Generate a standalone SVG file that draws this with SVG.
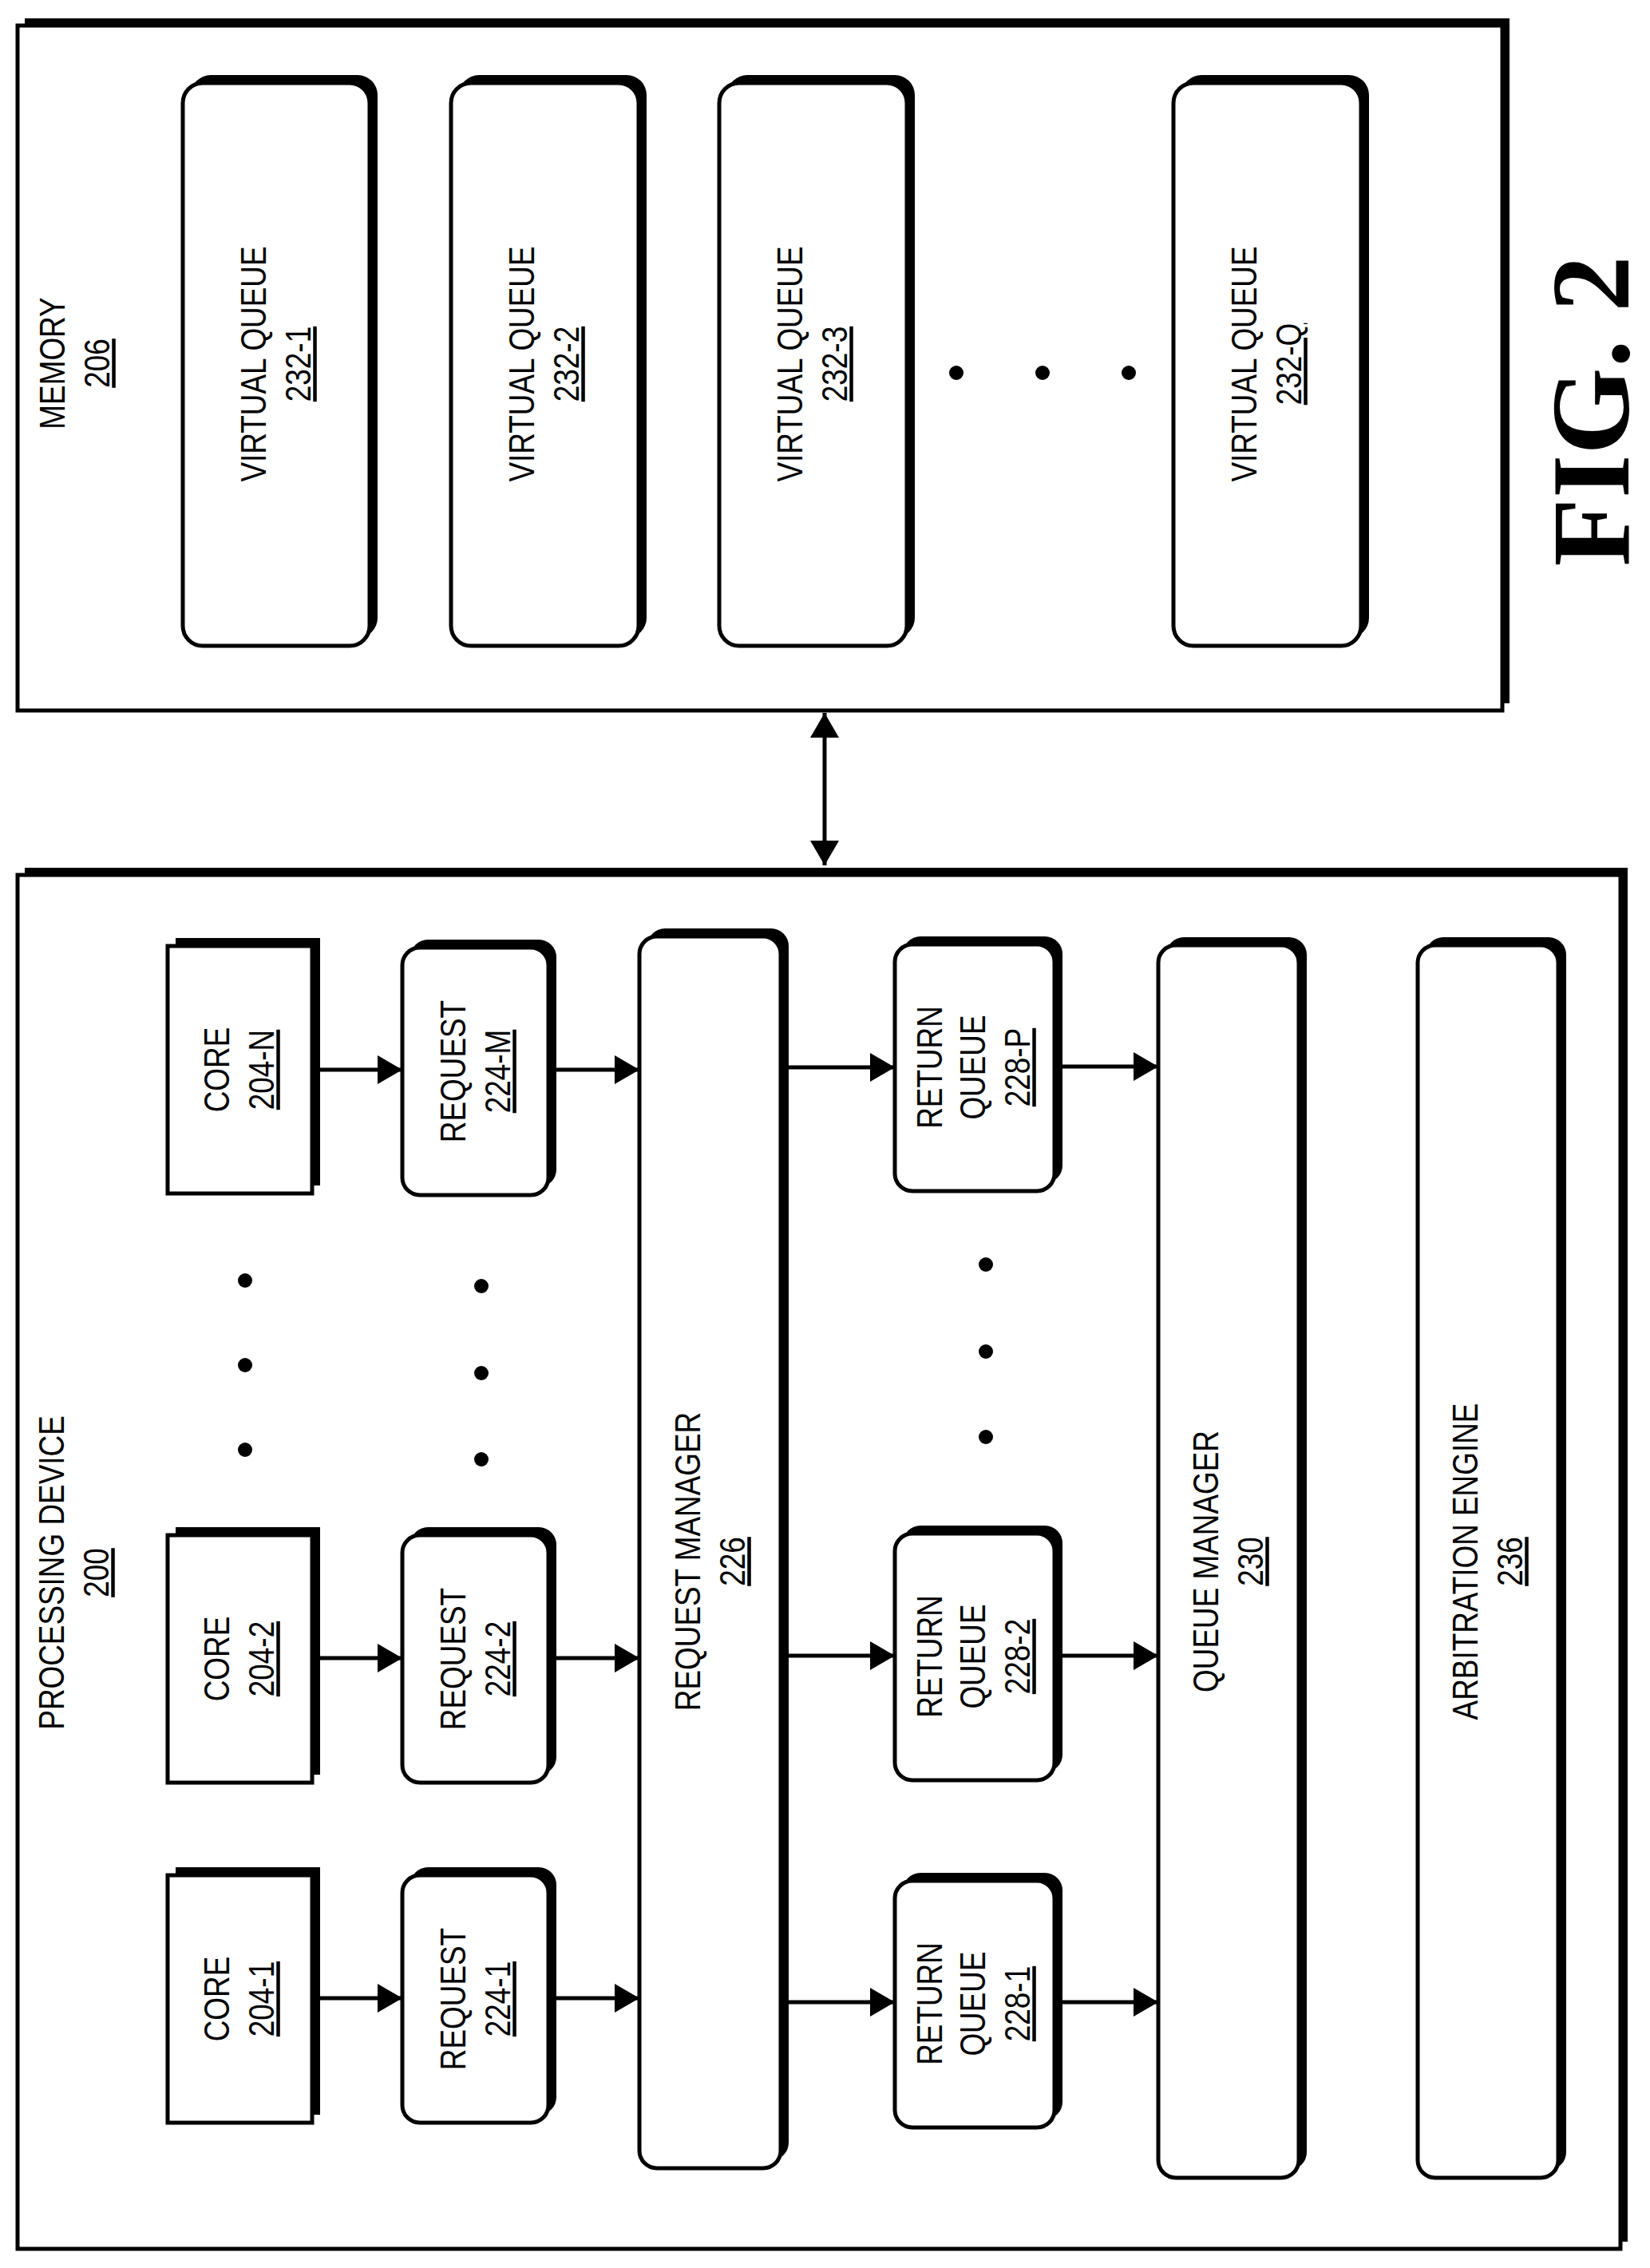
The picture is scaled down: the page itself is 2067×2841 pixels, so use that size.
<svg xmlns="http://www.w3.org/2000/svg" width="2067" height="2841" viewBox="0 0 2067 2841">
<style>
.sh{fill:#000}
.bx{fill:#fff;stroke:#000;stroke-width:5}
.t{font-family:"Liberation Sans",Arial,sans-serif;font-size:45px;fill:#000;text-anchor:middle}
.u{text-decoration:underline}
.c{stroke:#000;stroke-width:5;fill:none}
.fig{font-family:"Liberation Serif","Times New Roman",serif;font-weight:bold;font-size:140px;text-anchor:middle}
</style>
<defs>
<marker id="ah" markerUnits="userSpaceOnUse" markerWidth="32" markerHeight="36" refX="31" refY="18" orient="auto-start-reverse">
<path d="M0,0 L31,18 L0,36 Z" fill="#000"/>
</marker>
</defs>
<rect width="2067" height="2841" fill="#fff"/>

<g id="memory">
<rect class="sh" x="31" y="23" width="1860" height="858"/>
<rect class="bx" x="22" y="32" width="1860" height="858"/>
<text class="t" transform="translate(94,455) rotate(-90) scale(0.82,1)"><tspan x="0" y="-13">MEMORY</tspan><tspan class="u" x="0" y="43">206</tspan></text>
</g>

<g id="vq1">
<rect class="sh" x="239" y="94" width="234" height="705" rx="25"/>
<rect class="bx" x="229" y="104" width="234" height="705" rx="25"/>
<text class="t" transform="translate(346,456) rotate(-90) scale(0.82,1)"><tspan x="0" y="-13">VIRTUAL QUEUE</tspan><tspan class="u" x="0" y="43">232-1</tspan></text>
</g>
<g id="vq2">
<rect class="sh" x="575" y="94" width="235" height="705" rx="25"/>
<rect class="bx" x="565" y="104" width="235" height="705" rx="25"/>
<text class="t" transform="translate(682,456) rotate(-90) scale(0.82,1)"><tspan x="0" y="-13">VIRTUAL QUEUE</tspan><tspan class="u" x="0" y="43">232-2</tspan></text>
</g>
<g id="vq3">
<rect class="sh" x="911" y="94" width="235" height="705" rx="25"/>
<rect class="bx" x="901" y="104" width="235" height="705" rx="25"/>
<text class="t" transform="translate(1018,456) rotate(-90) scale(0.82,1)"><tspan x="0" y="-13">VIRTUAL QUEUE</tspan><tspan class="u" x="0" y="43">232-3</tspan></text>
</g>
<g id="vqQ">
<rect class="sh" x="1480" y="94" width="235" height="705" rx="25"/>
<rect class="bx" x="1470" y="104" width="235" height="705" rx="25"/>
<text class="t" transform="translate(1587,456) rotate(-90) scale(0.82,1)"><tspan x="0" y="-13">VIRTUAL QUEUE</tspan><tspan class="u" x="0" y="43">232-Q</tspan></text>
</g>
<g id="vq-dots">
<circle cx="1198" cy="467" r="9"/><circle cx="1306" cy="467" r="9"/><circle cx="1414" cy="467" r="9"/>
</g>

<g id="fig"><text class="fig" transform="translate(2040,515) rotate(-90)">FIG. 2</text></g>

<g id="processing-device">
<rect class="sh" x="31" y="1087" width="2008" height="1721"/>
<rect class="bx" x="22" y="1096" width="2008" height="1721"/>
<text class="t" transform="translate(93,1970) rotate(-90) scale(0.82,1)"><tspan x="0" y="-13">PROCESSING DEVICE</tspan><tspan class="u" x="0" y="43">200</tspan></text>
</g>

<g id="coreN">
<rect class="sh" x="220" y="1175" width="181" height="310"/>
<rect class="bx" x="210" y="1185" width="181" height="310"/>
<text class="t" transform="translate(300,1340) rotate(-90) scale(0.82,1)"><tspan x="0" y="-13">CORE</tspan><tspan class="u" x="0" y="43">204-N</tspan></text>
</g>
<g id="core2">
<rect class="sh" x="220" y="1913" width="181" height="310"/>
<rect class="bx" x="210" y="1923" width="181" height="310"/>
<text class="t" transform="translate(300,2078) rotate(-90) scale(0.82,1)"><tspan x="0" y="-13">CORE</tspan><tspan class="u" x="0" y="43">204-2</tspan></text>
</g>
<g id="core1">
<rect class="sh" x="220" y="2339" width="181" height="310"/>
<rect class="bx" x="210" y="2349" width="181" height="310"/>
<text class="t" transform="translate(300,2504) rotate(-90) scale(0.82,1)"><tspan x="0" y="-13">CORE</tspan><tspan class="u" x="0" y="43">204-1</tspan></text>
</g>
<g id="core-dots"><circle cx="307" cy="1604" r="9"/><circle cx="307" cy="1710" r="9"/><circle cx="307" cy="1816" r="9"/></g>

<g id="reqM">
<rect class="sh" x="514" y="1177" width="183" height="310" rx="22"/>
<rect class="bx" x="504" y="1187" width="183" height="310" rx="22"/>
<text class="t" transform="translate(596,1342) rotate(-90) scale(0.82,1)"><tspan x="0" y="-13">REQUEST</tspan><tspan class="u" x="0" y="43">224-M</tspan></text>
</g>
<g id="req2">
<rect class="sh" x="514" y="1913" width="183" height="310" rx="22"/>
<rect class="bx" x="504" y="1923" width="183" height="310" rx="22"/>
<text class="t" transform="translate(596,2078) rotate(-90) scale(0.82,1)"><tspan x="0" y="-13">REQUEST</tspan><tspan class="u" x="0" y="43">224-2</tspan></text>
</g>
<g id="req1">
<rect class="sh" x="514" y="2339" width="183" height="310" rx="22"/>
<rect class="bx" x="504" y="2349" width="183" height="310" rx="22"/>
<text class="t" transform="translate(596,2504) rotate(-90) scale(0.82,1)"><tspan x="0" y="-13">REQUEST</tspan><tspan class="u" x="0" y="43">224-1</tspan></text>
</g>
<g id="req-dots"><circle cx="603" cy="1611" r="9"/><circle cx="603" cy="1720" r="9"/><circle cx="603" cy="1828" r="9"/></g>

<g id="request-manager">
<rect class="sh" x="811" y="1163" width="177" height="1543" rx="22"/>
<rect class="bx" x="801" y="1173" width="177" height="1543" rx="22"/>
<text class="t" transform="translate(890,1956) rotate(-90) scale(0.82,1)"><tspan x="0" y="-13">REQUEST MANAGER</tspan><tspan class="u" x="0" y="43">226</tspan></text>
</g>

<g id="rqP">
<rect class="sh" x="1131" y="1173" width="200" height="309" rx="22"/>
<rect class="bx" x="1121" y="1183" width="200" height="309" rx="22"/>
<text class="t" transform="translate(1221,1337) rotate(-90) scale(0.82,1)"><tspan x="0" y="-41">RETURN</tspan><tspan x="0" y="13">QUEUE</tspan><tspan class="u" x="0" y="69">228-P</tspan></text>
</g>
<g id="rq2">
<rect class="sh" x="1131" y="1911" width="200" height="309" rx="22"/>
<rect class="bx" x="1121" y="1921" width="200" height="309" rx="22"/>
<text class="t" transform="translate(1221,2075) rotate(-90) scale(0.82,1)"><tspan x="0" y="-41">RETURN</tspan><tspan x="0" y="13">QUEUE</tspan><tspan class="u" x="0" y="69">228-2</tspan></text>
</g>
<g id="rq1">
<rect class="sh" x="1131" y="2346" width="200" height="309" rx="22"/>
<rect class="bx" x="1121" y="2356" width="200" height="309" rx="22"/>
<text class="t" transform="translate(1221,2510) rotate(-90) scale(0.82,1)"><tspan x="0" y="-41">RETURN</tspan><tspan x="0" y="13">QUEUE</tspan><tspan class="u" x="0" y="69">228-1</tspan></text>
</g>
<g id="rq-dots"><circle cx="1235" cy="1584" r="9"/><circle cx="1235" cy="1693" r="9"/><circle cx="1235" cy="1800" r="9"/></g>

<g id="queue-manager">
<rect class="sh" x="1461" y="1174" width="176" height="1544" rx="22"/>
<rect class="bx" x="1451" y="1184" width="176" height="1544" rx="22"/>
<text class="t" transform="translate(1539,1956) rotate(-90) scale(0.82,1)"><tspan x="0" y="-13">QUEUE MANAGER</tspan><tspan class="u" x="0" y="43">230</tspan></text>
</g>
<g id="arbitration-engine">
<rect class="sh" x="1786" y="1174" width="176" height="1544" rx="22"/>
<rect class="bx" x="1776" y="1184" width="176" height="1544" rx="22"/>
<text class="t" transform="translate(1864,1956) rotate(-90) scale(0.82,1)"><tspan x="0" y="-13">ARBITRATION ENGINE</tspan><tspan class="u" x="0" y="43">236</tspan></text>
</g>

<g id="connectors">
<line class="c" x1="1033" y1="893" x2="1033" y2="1084" marker-start="url(#ah)" marker-end="url(#ah)"/>
<line class="c" x1="401" y1="1340" x2="504" y2="1340" marker-end="url(#ah)"/>
<line class="c" x1="697" y1="1340" x2="801" y2="1340" marker-end="url(#ah)"/>
<line class="c" x1="988" y1="1337" x2="1121" y2="1337" marker-end="url(#ah)"/>
<line class="c" x1="1331" y1="1336" x2="1451" y2="1336" marker-end="url(#ah)"/>
<line class="c" x1="401" y1="2077" x2="504" y2="2077" marker-end="url(#ah)"/>
<line class="c" x1="697" y1="2077" x2="801" y2="2077" marker-end="url(#ah)"/>
<line class="c" x1="988" y1="2074" x2="1121" y2="2074" marker-end="url(#ah)"/>
<line class="c" x1="1331" y1="2074" x2="1451" y2="2074" marker-end="url(#ah)"/>
<line class="c" x1="401" y1="2503" x2="504" y2="2503" marker-end="url(#ah)"/>
<line class="c" x1="697" y1="2503" x2="801" y2="2503" marker-end="url(#ah)"/>
<line class="c" x1="988" y1="2508" x2="1121" y2="2508" marker-end="url(#ah)"/>
<line class="c" x1="1331" y1="2508" x2="1451" y2="2508" marker-end="url(#ah)"/>
</g>
</svg>
